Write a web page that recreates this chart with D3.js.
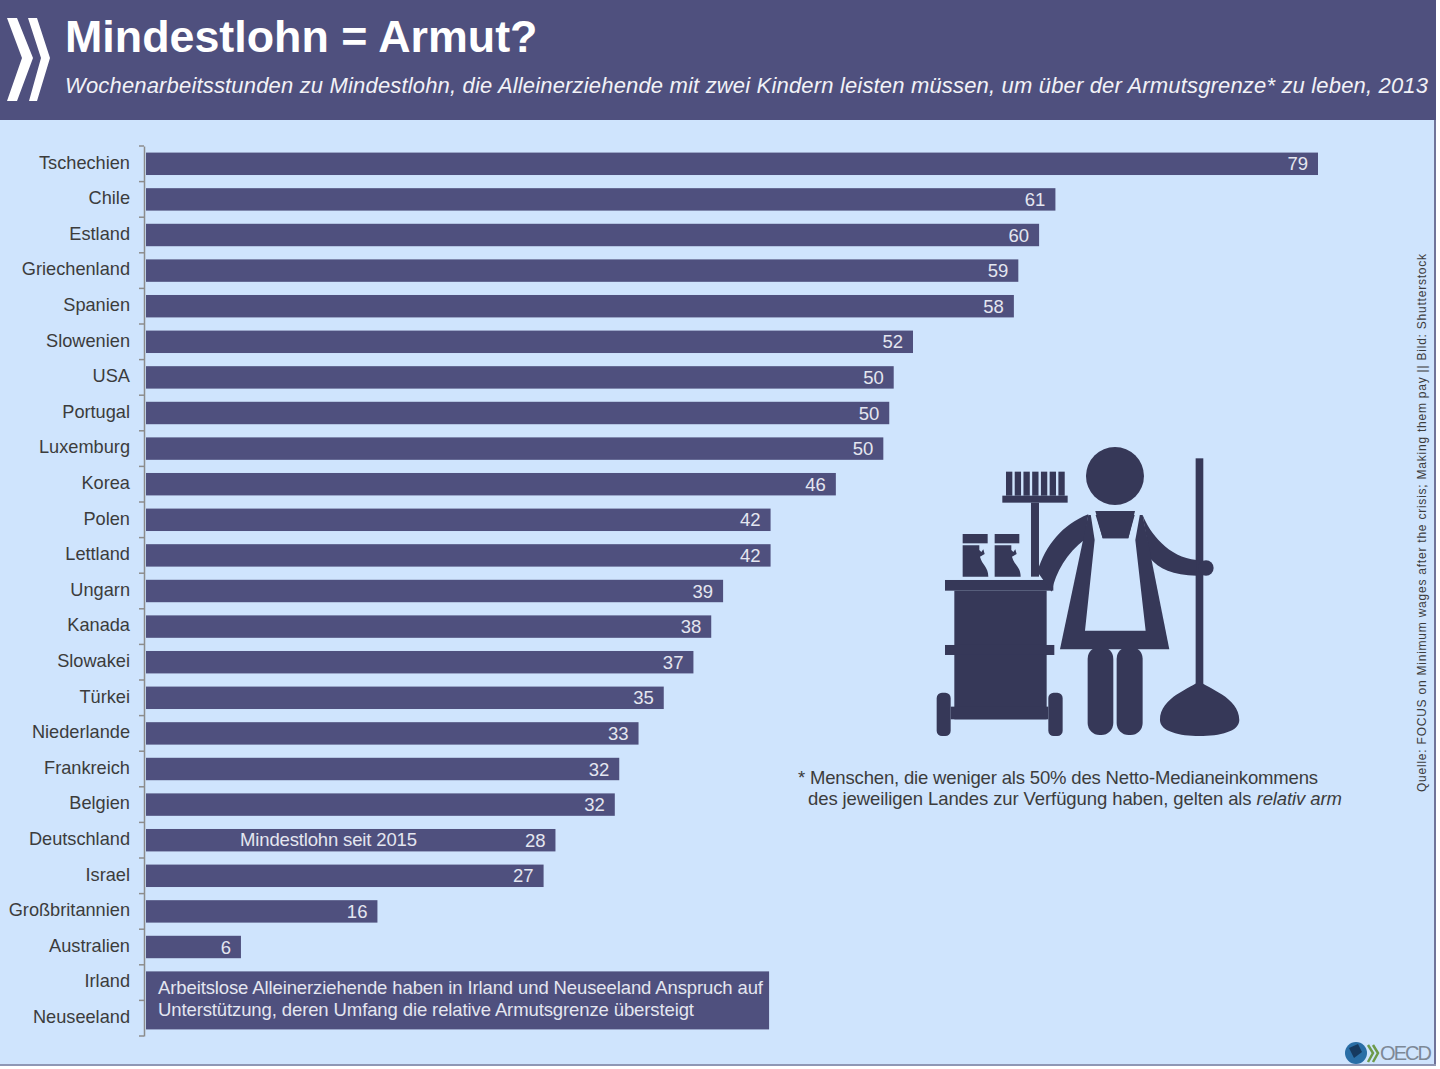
<!DOCTYPE html>
<html>
<head>
<meta charset="utf-8">
<script src="https://cdn.jsdelivr.net/npm/d3@7"></script>
<style>
  html, body { margin: 0; padding: 0; background: #fff; }
  svg { display: block; }
  text { font-family: "Liberation Sans", Arial, sans-serif; }
</style>
</head>
<body>
<div id="chart"></div>
<script>
const countries = ["Tschechien", "Chile", "Estland", "Griechenland", "Spanien", "Slowenien", "USA", "Portugal", "Luxemburg", "Korea", "Polen", "Lettland", "Ungarn", "Kanada", "Slowakei", "Türkei", "Niederlande", "Frankreich", "Belgien", "Deutschland", "Israel", "Großbritannien", "Australien", "Irland", "Neuseeland"];
// bar lengths as measured, the printed labels are rounded differently in places
const hours = [79, 61.3, 60.2, 58.8, 58.5, 51.7, 50.4, 50.1, 49.7, 46.5, 42.1, 42.1, 38.9, 38.1, 36.9, 34.9, 33.2, 31.9, 31.6, 27.6, 26.8, 15.6, 6.4];
const hourLabels = ["79", "61", "60", "59", "58", "52", "50", "50", "50", "46", "42", "42", "39", "38", "37", "35", "33", "32", "32", "28", "27", "16", "6"];
const noBarCountries = ["Irland", "Neuseeland"];
const noBarWidth = 42;

const w = 1440;
const h = 1069;
const dark = "#4f507e";
const icon = "#363858";
const bg = "#cfe4fd";

const svg = d3.select("#chart").append("svg").attr("width", w).attr("height", h);

// panel + header
svg.append("rect").attr("x", 0).attr("y", 0).attr("width", 1436).attr("height", 1065).attr("fill", bg);
svg.append("rect").attr("x", 1434).attr("y", 0).attr("width", 2).attr("height", 1065).attr("fill", "#6f7399");
svg.append("rect").attr("x", 0).attr("y", 1064).attr("width", 1436).attr("height", 2).attr("fill", "#8f97b5");
svg.append("rect").attr("x", 0).attr("y", 0).attr("width", 1436).attr("height", 120).attr("fill", dark);

svg.append("g").attr("fill", "#fff")
  .selectAll("path")
  .data(["M7,18L17,18L33,58L17,101L7,101L22,58Z", "M28,18L37,18L50,58L37,101L29,101L41,58Z"])
  .join("path")
  .attr("d", d => d);

svg.append("text").attr("x", 65).attr("y", 52).attr("fill", "#fff")
  .attr("font-size", 44.8).attr("font-weight", "bold").text("Mindestlohn = Armut?");
svg.append("text").attr("x", 65).attr("y", 93).attr("fill", "#f2f2f7")
  .attr("font-size", 22).attr("font-style", "italic")
  .attr("textLength", 1363).attr("lengthAdjust", "spacing")
  .text("Wochenarbeitsstunden zu Mindestlohn, die Alleinerziehende mit zwei Kindern leisten müssen, um über der Armutsgrenze* zu leben, 2013");

// scales
const x = d3.scaleLinear().domain([0, 79]).range([146, 1318]);
const y = d3.scaleBand().domain(countries).range([146, 1036]).paddingInner(0.37).paddingOuter(0.185);

// axis
const axis = svg.append("g").attr("transform", "translate(144,0)")
  .call(d3.axisLeft(y).tickSize(0).tickPadding(14));
axis.select(".domain").attr("stroke", "#8c8c8c").attr("stroke-width", 1.5);
axis.selectAll("text").attr("font-size", 18.2).attr("fill", "#3c3c3c").attr("dy", "0.26em")
  .style("font-family", '"Liberation Sans", Arial, sans-serif');

const edges = d3.range(countries.length + 1).map(i => y.range()[0] + i * y.step());
svg.append("g").selectAll("line").data(edges).join("line")
  .attr("x1", 139).attr("x2", 144)
  .attr("y1", d => d).attr("y2", d => d)
  .attr("stroke", "#8c8c8c").attr("stroke-width", 1.5);

// bars
const barData = hours.map((v, i) => ({ name: countries[i], v: v, label: hourLabels[i] }));
svg.append("g").selectAll("rect").data(barData).join("rect")
  .attr("x", x(0))
  .attr("y", d => y(d.name))
  .attr("width", d => x(d.v) - x(0))
  .attr("height", y.bandwidth())
  .attr("fill", dark);

svg.append("g").selectAll("text").data(barData).join("text")
  .attr("x", d => x(d.v) - 10)
  .attr("y", d => y(d.name) + y.bandwidth() / 2)
  .attr("dy", "0.36em")
  .attr("text-anchor", "end")
  .attr("font-size", 18.5)
  .attr("fill", "#e4e6f0")
  .text(d => d.label);

svg.append("text")
  .attr("x", 240).attr("y", y("Deutschland") + y.bandwidth() / 2).attr("dy", "0.3em")
  .attr("font-size", 18.5).attr("fill", "#e4e6f0")
  .attr("textLength", 177).attr("lengthAdjust", "spacing")
  .text("Mindestlohn seit 2015");

// box for the two countries without a bar
const boxTop = y(noBarCountries[0]);
const boxBottom = y(noBarCountries[1]) + y.bandwidth();
svg.append("rect")
  .attr("x", x(0)).attr("y", boxTop)
  .attr("width", x(noBarWidth) - x(0)).attr("height", boxBottom - boxTop)
  .attr("fill", dark);
svg.append("text").attr("x", 158).attr("y", 994).attr("font-size", 18.5).attr("fill", "#e4e6f0")
  .attr("textLength", 605).attr("lengthAdjust", "spacing")
  .text("Arbeitslose Alleinerziehende haben in Irland und Neuseeland Anspruch auf");
svg.append("text").attr("x", 158).attr("y", 1016).attr("font-size", 18.5).attr("fill", "#e4e6f0")
  .attr("textLength", 536).attr("lengthAdjust", "spacing")
  .text("Unterstützung, deren Umfang die relative Armutsgrenze übersteigt");

// footnote
svg.append("text").attr("x", 798).attr("y", 784).attr("font-size", 18.5).attr("fill", "#3c3c3c")
  .attr("textLength", 520).attr("lengthAdjust", "spacing")
  .text("* Menschen, die weniger als 50% des Netto-Medianeinkommens");
const note2 = svg.append("text").attr("x", 808).attr("y", 805).attr("font-size", 18.5).attr("fill", "#3c3c3c")
  .attr("textLength", 534).attr("lengthAdjust", "spacing");
note2.append("tspan").text("des jeweiligen Landes zur Verfügung haben, gelten als ");
note2.append("tspan").attr("font-style", "italic").text("relativ arm");

// source
svg.append("text")
  .attr("transform", "translate(1426,792) rotate(-90)")
  .attr("font-size", 12).attr("fill", "#3c3c3c")
  .attr("textLength", 538).attr("lengthAdjust", "spacing")
  .text("Quelle: FOCUS on Minimum wages after the crisis; Making them pay || Bild: Shutterstock");

// cleaner pictogram, drawn in a 3x space
const pic = svg.append("g").attr("transform", "translate(920,430) scale(0.3333)").attr("fill", icon);
const picRects = [
  [75, 450, 325, 32], [103, 482, 277, 386], [75, 645, 328, 30],
  [50, 788, 42, 130, 16], [385, 788, 43, 130, 16], [92, 830, 293, 38],
  [333, 218, 24, 222], [247, 197, 196, 21],
  [827, 85, 23, 680],
  [503, 650, 77, 265, 36], [590, 650, 78, 265, 36]
];
pic.selectAll("rect.part").data(picRects).join("rect").attr("class", "part")
  .attr("x", d => d[0]).attr("y", d => d[1]).attr("width", d => d[2]).attr("height", d => d[3])
  .attr("rx", d => d[4] || 0);
pic.selectAll("rect.bristle").data(d3.range(7)).join("rect").attr("class", "bristle")
  .attr("x", d => 258 + d * 26.2).attr("y", 125).attr("width", 19).attr("height", 72);
pic.append("circle").attr("cx", 585).attr("cy", 138).attr("r", 87);
pic.append("circle").attr("cx", 858).attr("cy", 414).attr("r", 23);
[
  "M128,312H203V340H128Z",
  "M128,346H178V360L184,366L190,358L194,372L180,380C186,405 205,410 205,440H128Z",
  "M224,312H298V340H224Z",
  "M224,346H274V360L280,366L286,358L290,372L276,380C282,405 302,410 302,440H224Z",
  // mop head
  "M838,752C860,775 958,800 958,870C958,905 900,918 838,918C780,918 720,905 720,870C720,800 815,775 838,752Z",
  // left arm
  "M505,253C425,285 378,345 352,425L395,485C408,425 440,370 495,328Z",
  // right arm
  "M668,255C690,310 745,382 830,390L830,437C760,437 715,415 690,385Z",
  // dress
  "M505,255L420,658H748L668,255Z"
].forEach(d => pic.append("path").attr("d", d));
pic.append("path").attr("fill", bg)
  .attr("d", "M512,252H526L548,325H625L645,252H660L646,330L677,602H495L524,330Z");
pic.append("path").attr("d", "M526,243H645L625,325H548Z");

// OECD logo
svg.append("circle").attr("cx", 1356).attr("cy", 1053).attr("r", 11).attr("fill", "#2a6ea6");
svg.append("path").attr("d", "M1349,1048L1358,1044L1362,1052L1354,1058Z").attr("fill", "#16395f");
svg.append("path").attr("fill", "none").attr("stroke", "#6d9a4a").attr("stroke-width", 2.5)
  .attr("d", "M1368,1045L1373,1053L1368,1062M1373,1045L1378,1053L1373,1062");
svg.append("text").attr("x", 1380).attr("y", 1060).attr("font-size", 20).attr("fill", "#7d8896")
  .attr("textLength", 52).attr("lengthAdjust", "spacing").text("OECD");
</script>
</body>
</html>
